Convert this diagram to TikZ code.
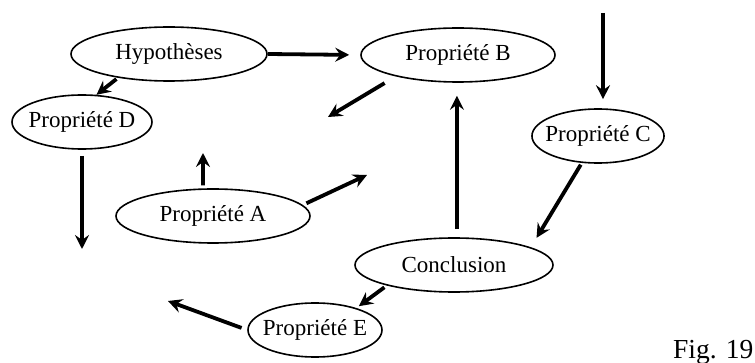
\documentclass[tikz,border=0pt]{standalone}
\usepackage{fontspec}
\setmainfont{Liberation Serif}
\usetikzlibrary{shapes.geometric,arrows.meta}

\begin{document}
\begin{tikzpicture}[
    x=1pt, y=-1pt,
    bulle/.style={ellipse, draw, line width=1.6pt, inner sep=0pt, inner xsep=-6pt,
      minimum height=54pt, font=\fontsize{23}{27}\selectfont},
    fleche/.style={line width=3.8pt, -{Stealth[length=14pt,width=14pt,inset=5pt]}}
  ]
    \useasboundingbox (0,0) rectangle (755,363);

    % Ellipses
    \node[bulle, minimum width=196pt] (hyp) at (169,54) {Hypothèses};
    \node[bulle, minimum width=194pt] (propB) at (458,55) {Propriété B};
    \node[bulle, minimum width=140pt] (propD) at (82,122) {Propriété D};
    \node[bulle, minimum width=132pt] (propC) at (598,136) {Propriété C};
    \node[bulle, minimum width=194pt] (propA) at (213,216) {Propriété A};
    \node[bulle, minimum width=198pt] (conc) at (454,265) {Conclusion};
    \node[bulle, minimum width=134pt] (propE) at (315,330) {Propriété E};

    % Loose ends of the arrows
    \coordinate (ctop) at (603,13);
    \coordinate (bfree) at (328,117);
    \coordinate (dfree) at (82,249);
    \coordinate (aup) at (203,153);
    \coordinate (aright) at (367,175);
    \coordinate (efree) at (168,301);

    % Arrows
    \draw[fleche, shorten >=11pt] (hyp.east) -- (propB.west);
    \draw[fleche, shorten <=2pt] (hyp.205) -- (propD.62);
    \draw[fleche, shorten <=13pt] (propB.199) -- (bfree);
    \draw[fleche, shorten <=6pt] (propD.south) -- (dfree);
    \draw[fleche, shorten <=3pt] (propA.110) -- (aup);
    \draw[fleche, shorten <=4pt] (propA.7) -- (aright);
    \draw[fleche, shorten >=9pt] (ctop) -- (ctop |- propC.north);
    \draw[fleche, shorten <=8pt, shorten >=13pt] (conc.84) -- (conc.84 |- propB.south);
    \draw[fleche, shorten <=2pt, shorten >=11pt] (propC.239) -- (conc.13);
    \draw[fleche, shorten <=3pt, shorten >=3pt] (conc.197) -- (propE.28);
    \draw[fleche, shorten <=6pt] (propE.west) -- (efree);

    % Figure number
    \node[anchor=base west, inner sep=0pt, font=\fontsize{27.5}{33}\selectfont] (fig) at (673,358) {Fig. 19};

\end{tikzpicture}
\end{document}
